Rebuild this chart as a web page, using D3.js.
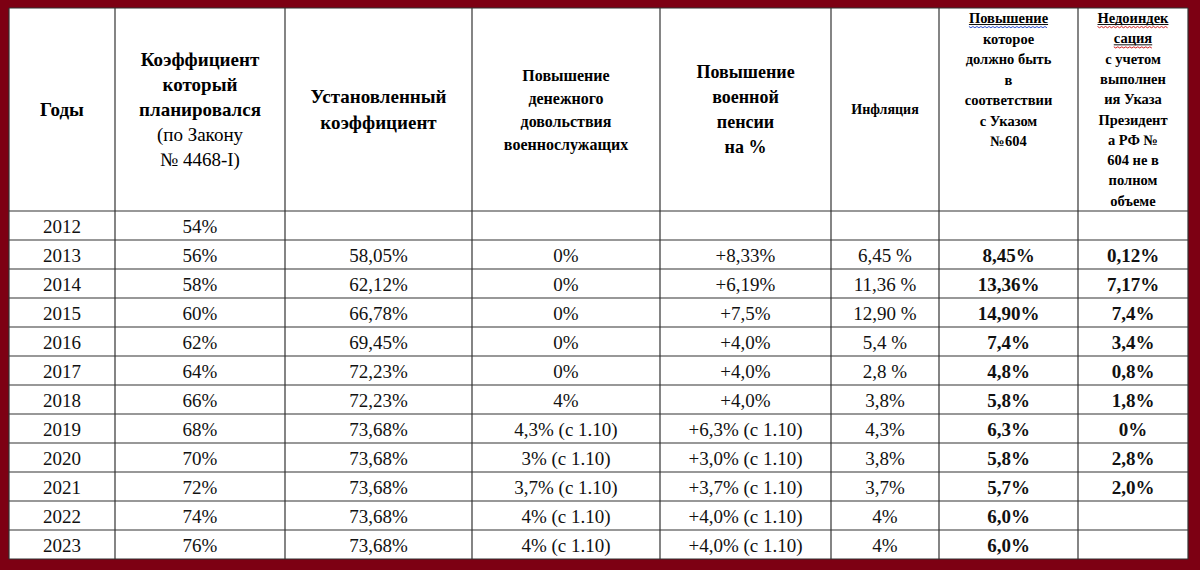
<!DOCTYPE html>
<html>
<head>
<meta charset="utf-8">
<script src="https://cdn.jsdelivr.net/npm/d3@7"></script>
<style>
  body { margin: 0; background: #7d0013; }
  svg { display: block; }
</style>
</head>
<body>
<main></main>
<script>
const width = 1200;
const height = 570;

const years = ["2012", "2013", "2014", "2015", "2016", "2017", "2018", "2019", "2020", "2021", "2022", "2023"];
const planned = ["54%", "56%", "58%", "60%", "62%", "64%", "66%", "68%", "70%", "72%", "74%", "76%"];
const established = ["", "58,05%", "62,12%", "66,78%", "69,45%", "72,23%", "72,23%", "73,68%", "73,68%", "73,68%", "73,68%", "73,68%"];
const allowance = ["", "0%", "0%", "0%", "0%", "0%", "4%", "4,3% (с 1.10)", "3% (с 1.10)", "3,7% (с 1.10)", "4% (с 1.10)", "4% (с 1.10)"];
const pension = ["", "+8,33%", "+6,19%", "+7,5%", "+4,0%", "+4,0%", "+4,0%", "+6,3% (с 1.10)", "+3,0% (с 1.10)", "+3,7% (с 1.10)", "+4,0% (с 1.10)", "+4,0% (с 1.10)"];
const inflation = ["", "6,45 %", "11,36 %", "12,90 %", "5,4 %", "2,8 %", "3,8%", "4,3%", "3,8%", "3,7%", "4%", "4%"];
const decree = ["", "8,45%", "13,36%", "14,90%", "7,4%", "4,8%", "5,8%", "6,3%", "5,8%", "5,7%", "6,0%", "6,0%"];
const shortfall = ["", "0,12%", "7,17%", "7,4%", "3,4%", "0,8%", "1,8%", "0%", "2,8%", "2,0%", "", ""];

const columns = [years, planned, established, allowance, pension, inflation, decree, shortfall];
const boldCols = [false, false, false, false, false, false, true, true];

// header lines: [text, bold, underline]
const headers = [
  { size: 19, gap: 25, lines: [["Годы", true]] },
  { size: 19, gap: 25, lines: [["Коэффициент", true], ["который", true], ["планировался", true], ["(по Закону", false], ["№ 4468-I)", false]] },
  { size: 19, gap: 26, lines: [["Установленный", true], ["коэффициент", true]] },
  { size: 16, gap: 23, lines: [["Повышение", true], ["денежного", true], ["довольствия", true], ["военнослужащих", true]] },
  { size: 18, gap: 25, lines: [["Повышение", true], ["военной", true], ["пенсии", true], ["на %", true]] },
  { size: 14, gap: 20, lines: [["Инфляция", true]] },
  { size: 14.5, gap: 20.5, lines: [["Повышение", true, "#2b4fd0"], ["которое", true], ["должно быть", true], ["в", true], ["соответствии", true], ["с Указом", true], ["№604", true]], top: 18 },
  { size: 14.5, gap: 20.3, lines: [["Недоиндек", true, "#d02020"], ["сация", true, "#d02020"], ["с учетом", true], ["выполнен", true], ["ия Указа", true], ["Президент", true], ["а РФ №", true], ["604 не в", true], ["полном", true], ["объеме", true]], top: 18 }
];

const colEdges = [9, 115, 285, 472, 660, 831, 939, 1078, 1188];
const headerTop = 8;
const headerBottom = 211;
const rowH = 29;

const y = d3.scaleBand()
  .domain(years)
  .range([headerBottom, headerBottom + rowH * years.length])
  .padding(0);

const svg = d3.select("main").append("svg")
  .attr("width", width)
  .attr("height", height)
  .style("font-family", "'Liberation Serif', 'DejaVu Serif', serif");

svg.append("rect")
  .attr("x", colEdges[0]).attr("y", headerTop)
  .attr("width", colEdges[8] - colEdges[0])
  .attr("height", y.range()[1] - headerTop)
  .attr("fill", "#fff");

const grid = svg.append("g").attr("stroke", "#333").attr("stroke-width", 1.2);
grid.selectAll("line.v").data(colEdges).join("line")
  .attr("x1", d => d).attr("x2", d => d)
  .attr("y1", headerTop).attr("y2", y.range()[1]);
grid.selectAll("line.h").data([headerTop, ...years.map(d => y(d)), y.range()[1]]).join("line")
  .attr("class", "h")
  .attr("x1", colEdges[0]).attr("x2", colEdges[8])
  .attr("y1", d => d).attr("y2", d => d);

// header
headers.forEach((h, ci) => {
  const cx = (colEdges[ci] + colEdges[ci + 1]) / 2;
  const n = h.lines.length;
  const first = h.top !== undefined ? h.top : (headerTop + headerBottom) / 2 - (n - 1) * h.gap / 2;
  h.lines.forEach((ln, li) => {
    const ty = first + li * h.gap;
    const t = svg.append("text")
      .attr("x", cx).attr("y", ty)
      .attr("text-anchor", "middle")
      .attr("dominant-baseline", "central")
      .attr("font-size", h.size)
      .attr("font-weight", ln[1] ? "bold" : "normal")
      .text(ln[0]);
    if (ln[2]) {
      const w = t.node().getComputedTextLength();
      const uy = ty + h.size * 0.45;
      svg.append("line")
        .attr("x1", cx - w / 2).attr("x2", cx + w / 2)
        .attr("y1", uy).attr("y2", uy)
        .attr("stroke", "#111").attr("stroke-width", 1);
      const pts = d3.range(cx - w / 2, cx + w / 2, 2)
        .map((x, i) => [x, uy + 2 + (i % 2 ? 1.2 : 0)]);
      svg.append("path")
        .attr("d", d3.line()(pts))
        .attr("fill", "none")
        .attr("stroke", ln[2]).attr("stroke-width", 1);
    }
  });
});

// body
columns.forEach((col, ci) => {
  const cx = (colEdges[ci] + colEdges[ci + 1]) / 2;
  svg.append("g").selectAll("text").data(col).join("text")
    .attr("x", cx)
    .attr("y", (d, i) => y(years[i]) + y.bandwidth() / 2 + 1)
    .attr("text-anchor", "middle")
    .attr("dominant-baseline", "central")
    .attr("font-size", 19)
    .attr("font-weight", boldCols[ci] ? "bold" : "normal")
    .attr("fill", "#111")
    .text(d => d);
});
</script>
</body>
</html>
